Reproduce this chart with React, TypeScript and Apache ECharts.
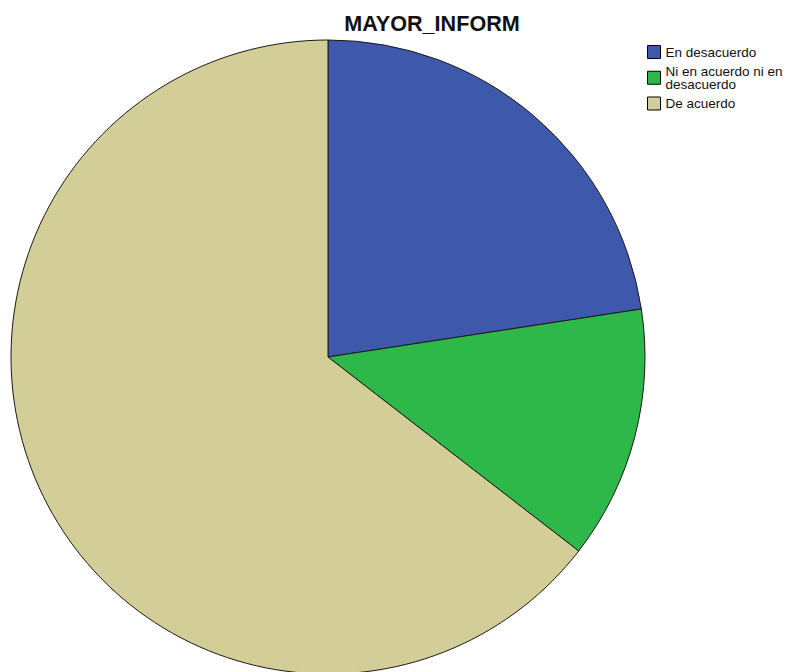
import React, { useEffect, useRef } from "react";
import * as echarts from "echarts";

const titleText = "MAYOR_INFORM";
const categories = ["En desacuerdo", "Ni en acuerdo ni en\ndesacuerdo", "De acuerdo"];
const counts = [7, 4, 20];
const colors = ["#3e58ac", "#2fb84a", "#d3ce98"];

export default function App() {
  const ref = useRef<HTMLDivElement>(null);
  useEffect(() => {
    if (!ref.current) return;
    const chart = echarts.init(ref.current, undefined, { renderer: "svg" });
    chart.setOption({
      animation: false,
      backgroundColor: "#ffffff",
      title: {
        text: titleText,
        left: 432,
        textAlign: "center",
        top: 12,
        padding: 0,
        textStyle: { fontFamily: "Liberation Sans", fontWeight: "bold", fontSize: 21.6, color: "#111" },
      },
      legend: {
        orient: "vertical",
        left: 647,
        top: 45,
        padding: 0,
        itemWidth: 13,
        itemHeight: 13,
        itemGap: 5,
        icon: "rect",
        selectedMode: false,
        itemStyle: { borderColor: "#000", borderWidth: 1 },
        textStyle: { fontFamily: "Liberation Sans", fontSize: 13.5, color: "#111", lineHeight: 13.5 },
        data: categories,
      },
      series: [
        {
          type: "pie",
          center: [328, 357],
          radius: 317,
          startAngle: 90,
          clockwise: true,
          label: { show: false },
          labelLine: { show: false },
          emphasis: { disabled: true },
          itemStyle: { borderColor: "#1a1a1a", borderWidth: 1 },
          data: categories.map((c, i) => ({ name: c, value: counts[i], itemStyle: { color: colors[i] } })),
        },
      ],
    });
    return () => chart.dispose();
  }, []);
  return <div ref={ref} style={{ position: "fixed", left: 0, top: 0, width: 799, height: 672 }} />;
}
